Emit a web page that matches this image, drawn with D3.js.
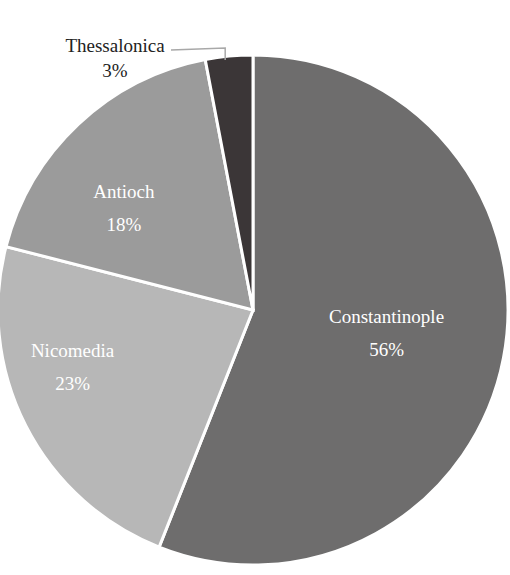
<!DOCTYPE html>
<html>
<head>
<meta charset="utf-8">
<script src="https://cdn.jsdelivr.net/npm/d3@7/dist/d3.min.js"></script>
<style>
  body { margin: 0; background: #fff; }
  text { font-family: "Liberation Serif", "DejaVu Serif", serif; font-size: 19px; }
</style>
</head>
<body>
<div id="chart"></div>
<script>
'use strict';

var cities  = ['Constantinople', 'Nicomedia', 'Antioch', 'Thessalonica'];
var shares  = [56, 23, 18, 3];
var colors  = ['#6e6d6d', '#b7b7b7', '#9b9b9b', '#3b3637'];

var width = 510, height = 575,
    cx = 253, cy = 310, radius = 255;

// label placement per slice: [radius fraction, angle offset in degrees]
var labelPlace = [[0.53, -2], [0.74, 10], [0.65, -8], [null, 0]];

var svg = d3.select('#chart').append('svg')
    .attr('width', width)
    .attr('height', height);

var g = svg.append('g').attr('transform', 'translate(' + cx + ',' + cy + ')');

var pie = d3.pie().sort(null).value(function (d) { return d.value; });
var arcs = pie(cities.map(function (c, i) { return { name: c, value: shares[i], color: colors[i] }; }));

var arc = d3.arc().innerRadius(0).outerRadius(radius);

g.selectAll('path.slice')
    .data(arcs)
    .enter().append('path')
    .attr('class', 'slice')
    .attr('d', arc)
    .attr('fill', function (d) { return d.data.color; })
    .attr('stroke', '#fff')
    .attr('stroke-width', 3);

function pointAt(angle, r) {
    return [r * Math.sin(angle), -r * Math.cos(angle)];
}

arcs.forEach(function (d, i) {
    var mid = (d.startAngle + d.endAngle) / 2;
    var p = labelPlace[i];
    if (p[0] === null) {
        // outside label with leader line
        var edge = pointAt(mid, radius - 2);
        var lx = -138, ly = -258;
        g.append('polyline')
            .attr('points', [[lx + 56, ly - 2], [edge[0] - 4, ly - 4], [edge[0] - 4, edge[1] + 2]].map(String).join(' '))
            .attr('fill', 'none')
            .attr('stroke', '#a8a8a8')
            .attr('stroke-width', 1.5);
        var t = g.append('text').attr('text-anchor', 'middle').attr('fill', '#222');
        t.append('tspan').attr('x', lx).attr('y', ly).text(d.data.name);
        t.append('tspan').attr('x', lx).attr('y', ly + 25).text(d.data.value + '%');
        return;
    }
    var pos = pointAt(mid + p[1] * Math.PI / 180, radius * p[0]);
    var txt = g.append('text').attr('text-anchor', 'middle').attr('fill', '#fff');
    txt.append('tspan').attr('x', pos[0]).attr('y', pos[1] - 8).text(d.data.name);
    txt.append('tspan').attr('x', pos[0]).attr('y', pos[1] + 25).text(d.data.value + '%');
});
</script>
</body>
</html>
